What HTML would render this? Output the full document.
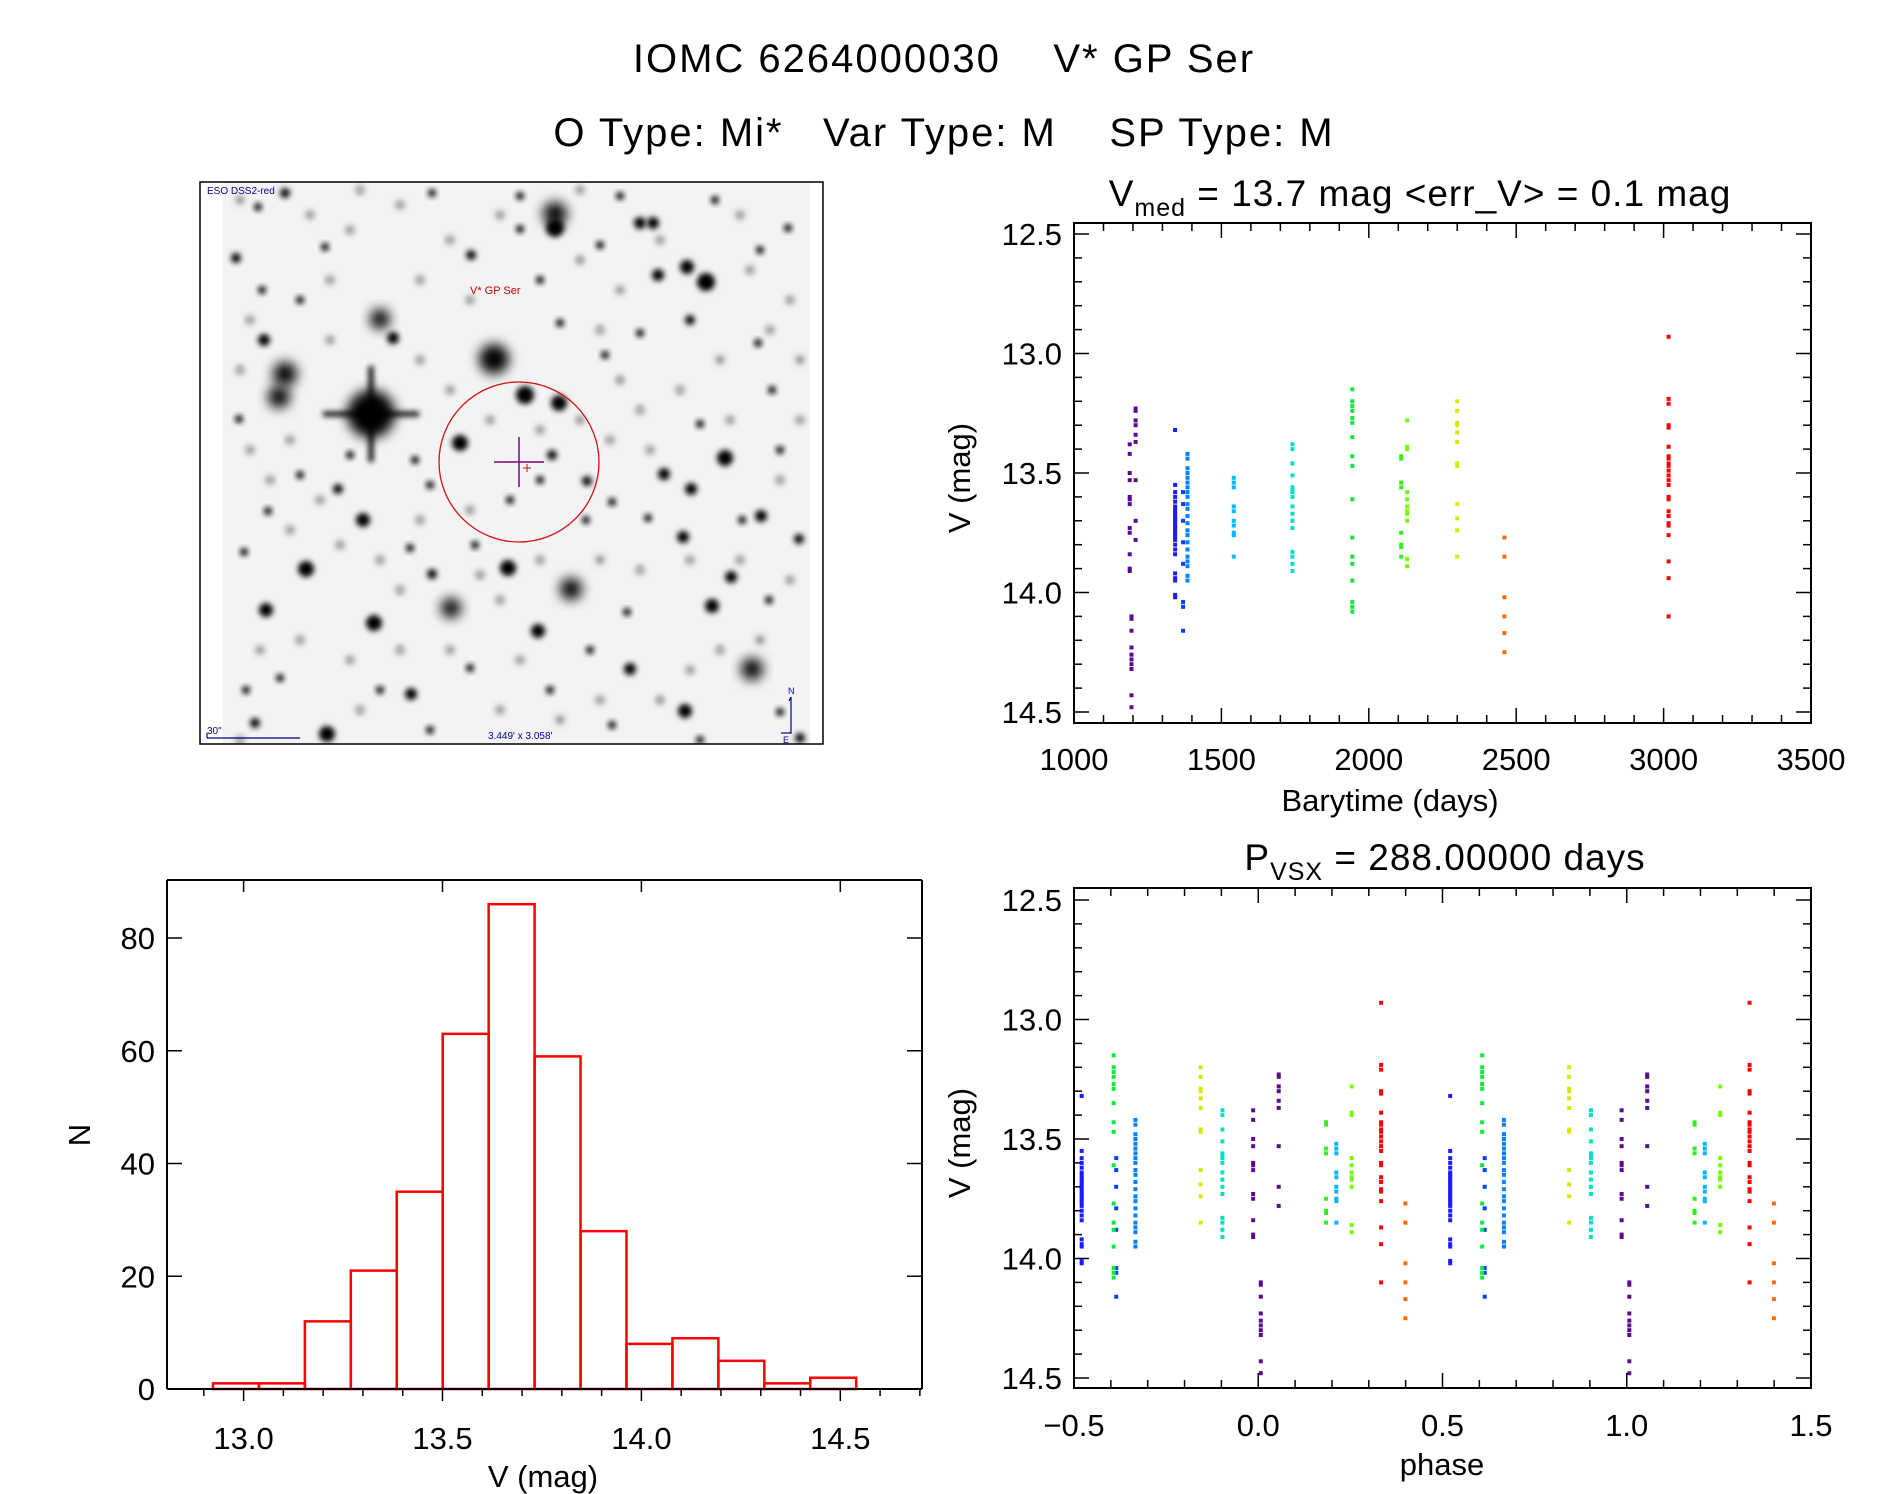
<!DOCTYPE html>
<html><head><meta charset="utf-8"><style>
html,body{margin:0;padding:0;background:#fff;}
svg{display:block;font-family:"Liberation Sans",sans-serif;}
</style></head><body>
<svg id="fig" width="1889" height="1494" viewBox="0 0 1889 1494" xmlns="http://www.w3.org/2000/svg">
<defs>
<filter id="blur3" x="-50%" y="-50%" width="200%" height="200%"><feGaussianBlur stdDeviation="3"/></filter>
<filter id="blur6" x="-50%" y="-50%" width="200%" height="200%"><feGaussianBlur stdDeviation="6"/></filter>
<clipPath id="imgclip"><rect x="223" y="182" width="587" height="562"/></clipPath>
</defs>
<text x="944" y="72" font-size="40" text-anchor="middle" letter-spacing="2" xml:space="preserve">IOMC 6264000030    V* GP Ser</text>
<text x="944" y="146" font-size="40" text-anchor="middle" letter-spacing="2" xml:space="preserve">O Type: Mi*   Var Type: M    SP Type: M</text>

<g id="sky">
<rect x="223" y="182" width="587" height="562" fill="#f3f3f3"/>
<g id="stars" clip-path="url(#imgclip)"></g>
<ellipse cx="519" cy="462" rx="80" ry="80" fill="none" stroke="#d01010" stroke-width="1.3"/>
<path d="M494 462H544M519 437V487" stroke="#800080" stroke-width="1.5"/>
<path d="M523 468h8M527 464v8" stroke="#d01010" stroke-width="1"/>
<text x="470" y="294" font-size="11" fill="#c00000">V* GP Ser</text>
<text x="207" y="194" font-size="10" fill="#00008b">ESO DSS2-red</text>
<text x="207" y="734" font-size="10" fill="#00008b">30"</text>
<path d="M207 738H300M207 733v5" stroke="#00008b" stroke-width="1.2" fill="none"/>
<text x="488" y="739" font-size="10" fill="#00008b">3.449' x 3.058'</text>
<path d="M791 697V733H789M791 697l-2 4" stroke="#00008b" stroke-width="1.2" fill="none"/>
<path d="M791 733H781" stroke="#00008b" stroke-width="1.2" fill="none"/>
<text x="788" y="694" font-size="9" fill="#00008b">N</text>
<text x="783" y="743" font-size="9" fill="#00008b">E</text>
<rect x="200" y="182" width="623" height="562" fill="none" stroke="#000" stroke-width="1.5"/>
</g>

<g id="lc"></g>
<g id="ph"></g>
<g id="hist"></g>
</svg>
<script>
// ===== light curve data =====
const groupTime = [1189, 1195, 1209, 1343, 1370, 1385, 1542, 1741, 1944, 2110, 2130, 2300, 2460, 3017];
const groupColor = ["#5b0a91","#5b0a91","#5b0a91","#1c1cff","#0040ff","#0080ff","#00b8ff","#00e0c8","#10e840","#30f020","#70ff00","#d8e800","#ff6a00","#ff0000"];
const groupMags = [
 [13.38,13.42,13.50,13.53,13.60,13.61,13.63,13.73,13.75,13.84,13.91,13.90],
 [14.10,14.11,14.16,14.23,14.26,14.28,14.30,14.32,14.43,14.48],
 [13.23,13.24,13.28,13.30,13.34,13.37,13.53,13.70,13.78],
 [13.32,13.55,13.58,13.60,13.62,13.64,13.65,13.66,13.67,13.68,13.69,13.70,13.71,13.72,13.73,13.74,13.75,13.76,13.77,13.78,13.80,13.82,13.84,13.92,13.94,13.95,14.01,14.02],
 [13.58,13.63,13.70,13.79,13.88,14.04,14.06,14.16],
 [13.42,13.44,13.48,13.50,13.52,13.54,13.56,13.58,13.60,13.63,13.65,13.68,13.71,13.74,13.76,13.79,13.82,13.85,13.87,13.89,13.93,13.95],
 [13.52,13.54,13.56,13.64,13.66,13.70,13.72,13.75,13.76,13.85],
 [13.38,13.40,13.46,13.51,13.56,13.57,13.58,13.60,13.64,13.67,13.70,13.73,13.83,13.85,13.88,13.91],
 [13.15,13.20,13.22,13.24,13.27,13.29,13.35,13.43,13.47,13.61,13.77,13.85,13.88,13.95,14.04,14.06,14.08],
 [13.43,13.44,13.54,13.56,13.75,13.80,13.81,13.85],
 [13.28,13.39,13.40,13.58,13.61,13.64,13.66,13.67,13.70,13.86,13.89],
 [13.20,13.24,13.29,13.30,13.33,13.37,13.46,13.47,13.63,13.69,13.74,13.85],
 [13.77,13.85,14.02,14.10,14.17,14.25],
 [12.93,13.19,13.21,13.30,13.31,13.39,13.43,13.44,13.46,13.47,13.49,13.51,13.53,13.55,13.60,13.61,13.66,13.68,13.71,13.72,13.76,13.87,13.94,14.10]
];
const period = [288.0];
const epoch = [1193];
const lcXTicks = [1000,1500,2000,2500,3000,3500];
const phXTicks = [-0.5,0.0,0.5,1.0,1.5];
const magTicks = [12.5,13.0,13.5,14.0,14.5];
// ===== histogram data =====
const histStart = [12.923];
const histWidth = [0.1155];
const histCounts = [1,1,12,21,35,63,86,59,28,8,9,5,1,2];
const histXTicks = [13.0,13.5,14.0,14.5];
const histYTicks = [0,20,40,60,80];

const NS = "http://www.w3.org/2000/svg";
function mk(tag, attrs, parent){const e=document.createElementNS(NS,tag);for(const k in attrs)e.setAttribute(k,attrs[k]);parent.appendChild(e);return e;}
function fmt(v,d){return v<0?"\u2212"+Math.abs(v).toFixed(d):v.toFixed(d);}

// ===== sky image (decorative) =====
const stars=[[371,414,24],[494,359,15],[285,374,12],[279,397,11],[380,319,10],[393,338,6],[555,214,12],[555,228,9],[706,282,9],[687,267,7],[658,275,6],[525,395,9],[559,403,8],[460,443,8],[725,458,8],[691,489,6],[761,516,6],[571,589,11],[508,568,8],[451,608,10],[374,623,8],[306,569,8],[266,610,7],[363,520,7],[538,631,7],[752,669,11],[712,606,7],[685,711,7],[327,734,8],[411,694,6],[653,223,6],[640,223,6],[264,340,6],[630,669,6],[731,577,6],[664,474,6],[683,537,6],[799,539,5],[325,247,4],[471,255,5],[600,245,4],[520,229,4],[605,355,4],[560,323,4],[640,333,4],[690,320,5],[758,343,4],[262,290,4],[239,419,4],[338,489,5],[415,460,4],[430,485,4],[587,481,5],[612,502,4],[475,545,4],[432,574,5],[410,548,4],[350,455,4],[300,475,4],[268,511,4],[244,552,4],[586,520,4],[648,518,4],[700,424,4],[772,390,4],[780,450,4],[742,520,4],[769,600,4],[627,612,4],[590,650,4],[550,690,4],[470,668,4],[380,690,4],[280,678,4],[246,690,4],[255,723,5],[430,730,4],[612,725,4],[700,740,4],[780,712,4],[800,738,5],[236,258,5],[200,230,4],[258,207,4],[285,193,5],[432,193,4],[520,196,4],[620,196,4],[715,200,4],[788,228,4],[760,250,4],[540,280,4],[300,300,4],[510,500,4],[540,480,4],[552,455,5]];
const faint=[[240,200],[310,215],[350,230],[400,205],[450,240],[500,215],[580,260],[620,290],[660,240],[740,215],[790,300],[770,330],[720,360],[680,390],[640,410],[610,440],[580,420],[540,430],[490,420],[450,390],[420,360],[330,340],[250,320],[240,370],[250,450],[290,440],[320,500],[290,530],[340,545],[380,560],[420,520],[470,510],[500,600],[540,560],[600,560],[640,570],[690,560],[740,560],[790,580],[760,640],[720,650],[690,670],[660,700],[600,700],[560,720],[500,710],[450,650],[400,650],[350,660],[300,640],[260,650],[240,740],[360,710],[520,660],[780,480],[800,420],[730,420],[650,450],[600,330],[330,280],[420,280],[470,300],[360,190],[580,190],[750,270],[800,360],[620,380],[270,480],[400,590],[480,575]];
const sg=document.getElementById('stars');
for(const f of faint){
  const c=mk('circle',{cx:f[0],cy:f[1],r:5,fill:'#000','fill-opacity':0.35,filter:'url(#blur3)'},sg);
  
  
}
for(const s of stars){
  const c=mk('circle',{cx:s[0],cy:s[1],r:s[2],fill:'#000',filter:s[2]>9?'url(#blur6)':'url(#blur3)'},sg);
  
  
}
mk('path',{d:'M323 414H419M371 366V462',stroke:'#000','stroke-width':5,filter:'url(#blur3)'},sg);

// ===== generic axis frame =====
function frame(g,L,T,R,B){mk('rect',{x:L,y:T,width:R-L,height:B-T,fill:'none',stroke:'#000','stroke-width':2},g);}
function line(g,x1,y1,x2,y2,w){mk('line',{x1:x1,y1:y1,x2:x2,y2:y2,stroke:'#000','stroke-width':w||1.5},g);}
function txt(g,x,y,s,size,anchor){const t=mk('text',{x:x,y:y,'font-size':size,'text-anchor':anchor||'middle'},g);t.textContent=s;return t;}

function magAxis(g,L,R,ymap){
  for(let m=12.5;m<=14.5001;m+=0.1){
    const y=ymap(m);const major=Math.abs(m*2-Math.round(m*2))<1e-6;const len=major?15:8;
    line(g,L,y,L+len,y,1.5);line(g,R,y,R-len,y,1.5);
  }
  for(const m of magTicks){
    const t=txt(g,L-12,ymap(m)+11,m.toFixed(1),31,'end');
    
    
  }
}

// ===== light curve panel =====
(function(){
  const g=document.getElementById('lc');
  const L=1074,R=1811,T=223,B=723;
  const xs=d=>L+(d-1000)/2500*(R-L);
  const ys=m=>234+(m-12.5)/2*(712-234);
  frame(g,L,T,R,B);
  for(let d=1000;d<=3500;d+=100){const x=xs(d);const major=d%500===0;const len=major?15:8;line(g,x,B,x,B-len);line(g,x,T,x,T+len);}
  for(const d of lcXTicks){const t=txt(g,xs(d),770,String(d),31);
    
    }
  magAxis(g,L,R,ys);
  groupMags.forEach((arr,gi)=>{arr.forEach(m=>{
    const c=mk('rect',{x:xs(groupTime[gi])-2,y:ys(m)-2,width:4,height:4,fill:groupColor[gi]},g);
    
    
  });});
  const xt=txt(g,1390,811,'Barytime (days)',31);
  
  
  const yt=txt(g,0,0,'V (mag)',31);yt.setAttribute('transform','translate(970,478) rotate(-90)');
  
  
  const st=mk('text',{x:1420,y:206,'font-size':37,'text-anchor':'middle','letter-spacing':'1'},g);
  st.innerHTML='V<tspan font-size="25" dy="10">med</tspan><tspan dy="-10" xml:space="preserve"> = 13.7 mag &lt;err_V&gt; = 0.1 mag</tspan>';
  
  
})();

// ===== phase panel =====
(function(){
  const g=document.getElementById('ph');
  const L=1074,R=1811,T=888,B=1388;
  const xs=p=>L+(p+0.5)/2*(R-L);
  const ys=m=>900+(m-12.5)/2*(1378-900);
  frame(g,L,T,R,B);
  for(let i=0;i<=20;i++){const p=-0.5+i*0.1;const x=xs(p);const major=i%5===0;const len=major?15:8;line(g,x,B,x,B-len);line(g,x,T,x,T+len);}
  for(const p of phXTicks){const t=txt(g,xs(p),1436,fmt(p,1),31);
    
    }
  magAxis(g,L,R,ys);
  groupMags.forEach((arr,gi)=>{
    let ph=((groupTime[gi]-epoch[0])/period[0])%1; if(ph<0)ph+=1; if(ph>=0.5)ph-=1;
    [ph,ph+1].forEach(pp=>{arr.forEach(m=>{
      const c=mk('rect',{x:xs(pp)-2,y:ys(m)-2,width:4,height:4,fill:groupColor[gi]},g);
      
      
    });});
  });
  const xt=txt(g,1442,1475,'phase',31);
  
  
  const yt=txt(g,0,0,'V (mag)',31);yt.setAttribute('transform','translate(970,1143) rotate(-90)');
  
  
  const st=mk('text',{x:1445,y:870,'font-size':37,'text-anchor':'middle','letter-spacing':'1'},g);
  st.innerHTML='P<tspan font-size="25" dy="10">VSX</tspan><tspan dy="-10" xml:space="preserve"> = 288.00000 days</tspan>';
  
  
})();

// ===== histogram =====
(function(){
  const g=document.getElementById('hist');
  const L=167,R=922,T=880,B=1389;
  const xs=v=>243.6+(v-13)*397.8;
  const ys=n=>1389-n*(1389-938)/80;
  histCounts.forEach((n,i)=>{
    const x0=xs(histStart[0]+i*histWidth[0]), x1=xs(histStart[0]+(i+1)*histWidth[0]);
    const r=mk('rect',{x:x0,y:ys(n),width:x1-x0,height:ys(0)-ys(n),fill:'none',stroke:'#ff0000','stroke-width':2.5},g);
    
    
  });
  line(g,L,T,R,T,2);line(g,L,T,L,B,2);line(g,R,T,R,B,2);line(g,L,B,R,B,2);
  for(let i=0;i<=19;i++){const v=12.9+i*0.1;if(v<12.81||v>14.71)continue;const x=xs(v);const major=Math.abs(v*2-Math.round(v*2))<1e-6;
    line(g,x,B,x,B+(major?12:7));if(major)line(g,x,T,x,T+12);}
  for(const v of histXTicks){const t=txt(g,xs(v),1449,v.toFixed(1),31);
    
    }
  for(const n of histYTicks){const y=ys(n);line(g,L,y,L+15,y);line(g,R,y,R-15,y);
    const t=txt(g,155,y+11,String(n),31,'end');
    
    }
  const xt=txt(g,543,1487,'V (mag)',31);
  
  
  const yt=txt(g,0,0,'N',31);yt.setAttribute('transform','translate(90,1135) rotate(-90)');
  
  
})();
</script>
</body></html>
